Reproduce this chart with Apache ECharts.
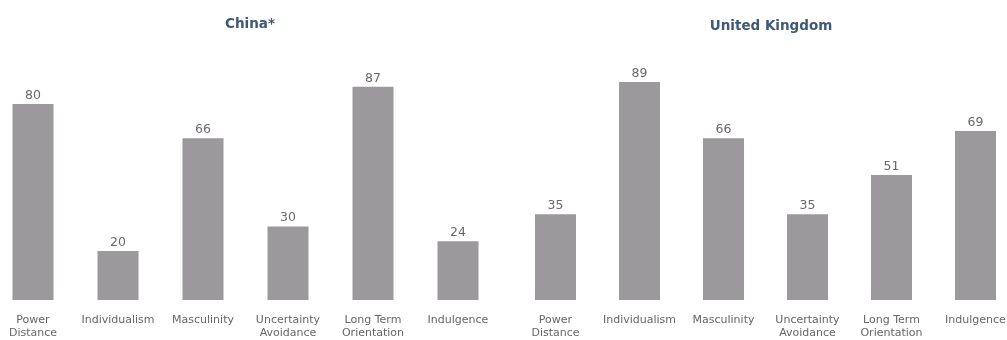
<!DOCTYPE html>
<html>
<head>
<meta charset="utf-8">
<script src="https://cdn.jsdelivr.net/npm/echarts@6/dist/echarts.min.js"></script>
<style>
  html, body { margin: 0; padding: 0; background: #fff; }
  #chart { width: 1007px; height: 340px; }
</style>
</head>
<body>
<div id="chart"></div>
<script>
// Hofstede 六维度得分：中国 vs 英国
const dimensions = ["Power\nDistance", "Individualism", "Masculinity", "Uncertainty\nAvoidance", "Long Term\nOrientation", "Indulgence"];
const chinaScores = [80, 20, 66, 30, 87, 24];
const ukScores = [35, 89, 66, 35, 51, 69];
const panelTitles = ["China*", "United Kingdom"];

const barColor = "#9b999c";
const font = "DejaVu Sans";

function xAxisFor(idx) {
  return {
    type: "category", gridIndex: idx, data: dimensions,
    axisLine: { show: false }, axisTick: { show: false },
    axisLabel: { color: "#666", fontSize: 11, fontFamily: font, margin: 14, lineHeight: 13, interval: 0 }
  };
}
function yAxisFor(idx) {
  return { type: "value", gridIndex: idx, min: 0, max: 100, show: false, splitLine: { show: false } };
}
function seriesFor(idx, data) {
  return {
    type: "bar", xAxisIndex: idx, yAxisIndex: idx, data: data, barWidth: 41,
    itemStyle: { color: barColor },
    label: { show: true, position: "top", distance: 2, color: "#6a6a6a", fontSize: 12.5, fontFamily: font }
  };
}

const chart = echarts.init(document.getElementById("chart"), null, { renderer: "canvas" });
chart.setOption({
  animation: false,
  title: [
    { text: panelTitles[0], left: 245, top: 12, textAlign: "center",
      textStyle: { color: "#3d5878", fontSize: 13.5, fontWeight: "bold", fontFamily: font } },
    { text: panelTitles[1], left: 766, top: 14, textAlign: "center",
      textStyle: { color: "#3d5878", fontSize: 13.5, fontWeight: "bold", fontFamily: font } }
  ],
  grid: [
    { left: -9.5, width: 510, top: 55, bottom: 40, containLabel: false, outerBoundsMode: "none" },
    { left: 513.5, width: 504, top: 55, bottom: 40, containLabel: false, outerBoundsMode: "none" }
  ],
  xAxis: [xAxisFor(0), xAxisFor(1)],
  yAxis: [yAxisFor(0), yAxisFor(1)],
  series: [seriesFor(0, chinaScores), seriesFor(1, ukScores)]
});
</script>
</body>
</html>
